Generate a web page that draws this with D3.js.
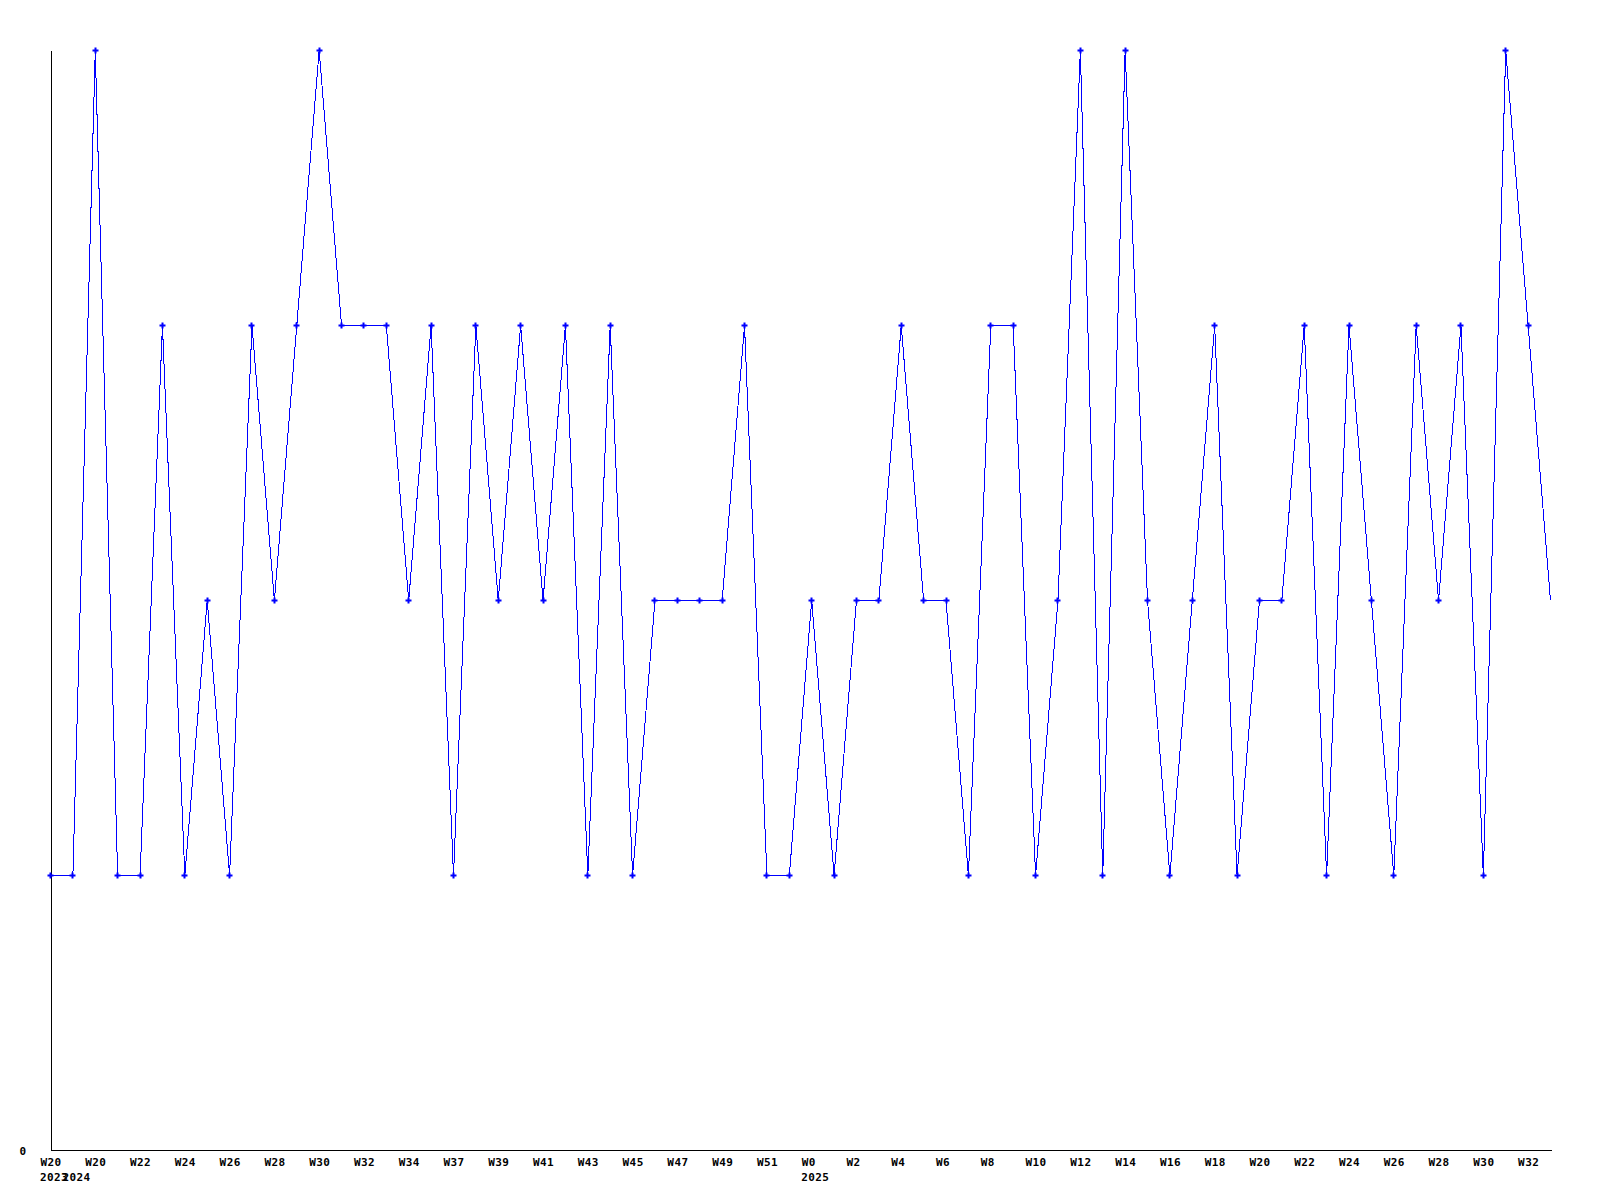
<!DOCTYPE html>
<html>
<head>
<meta charset="utf-8">
<script src="https://cdn.jsdelivr.net/npm/d3@7"></script>
<style>
  html, body { margin: 0; padding: 0; background: #fff; }
  svg { display: block; }
  text { font-family: "DejaVu Sans Mono", "Liberation Mono", monospace; font-weight: bold; font-size: 11px; letter-spacing: 0.4px; fill: #000; }
</style>
</head>
<body>
<svg id="chart" width="1600" height="1200"></svg>
<script>
// ---- data ----
const weeks = [
  "W20", "W19",
  "W20","W21","W22","W23","W24","W25","W26","W27","W28","W29","W30","W31","W32","W33","W34",
  "W36",
  "W37","W38","W39","W40","W41","W42","W43","W44","W45","W46","W47","W48","W49","W50","W51","W52",
  "W0","W1","W2","W3","W4","W5","W6","W7","W8","W9","W10","W11","W12","W13","W14","W15","W16",
  "W17","W18","W19","W20","W21","W22","W23","W24","W25","W26","W27","W28","W29","W30","W31","W32","W33"
];
const years = [
  "2023","2024",
  "2024","2024","2024","2024","2024","2024","2024","2024","2024","2024","2024","2024","2024","2024","2024",
  "2024",
  "2024","2024","2024","2024","2024","2024","2024","2024","2024","2024","2024","2024","2024","2024","2024","2024",
  "2025","2025","2025","2025","2025","2025","2025","2025","2025","2025","2025","2025","2025","2025","2025","2025","2025",
  "2025","2025","2025","2025","2025","2025","2025","2025","2025","2025","2025","2025","2025","2025","2025","2025","2025"
];
const values = [
  1,1,4,1,1,3,1,2,1,3,2,3,4,3,3,3,2,3,1,3,2,3,2,3,1,3,1,2,2,2,2,3,1,1,
  2,1,2,2,3,2,2,1,3,3,1,2,4,1,4,2,1,2,3,1,2,2,3,1,3,2,1,3,2,3,1,4,3,2
];
const yTicks = [0];

// ---- layout ----
const svg = d3.select("#chart");
const mLeft = 50, mRight = 1550, mTop = 50, mBottom = 1150;

const x = d3.scaleLinear().domain([0, values.length - 1]).range([mLeft, mRight]);
const y = d3.scaleLinear().domain([0, 4]).range([mBottom, mTop]);

const tickIdx = d3.range(0, values.length, 2);

// axes
const xAxis = d3.axisBottom(x)
  .tickValues(tickIdx)
  .tickSize(0)
  .tickSizeOuter(0)
  .tickPadding(8)
  .tickFormat(i => weeks[i]);

const gx = svg.append("g")
  .attr("transform", `translate(0.5,${mBottom + 0.5})`)
  .call(xAxis);
gx.select(".domain").attr("stroke", "#000").attr("shape-rendering", "crispEdges")
  .attr("d", `M${mLeft},0H${mRight + 1}`);
gx.selectAll(".tick text")
  .attr("font-size", null).attr("font-family", null)
  .attr("text-anchor", "start")
  .attr("x", -10.5)
  .attr("dy", "0.71em");

// year labels under the first point of each year
const yearStarts = d3.range(values.length).filter(i => i === 0 || years[i] !== years[i - 1]);
gx.selectAll(".year")
  .data(yearStarts)
  .join("text")
  .attr("class", "year")
  .attr("x", i => x(i) - 10.5)
  .attr("y", 23)
  .attr("dy", "0.71em")
  .attr("text-anchor", "start")
  .text(i => years[i]);

const yAxis = d3.axisLeft(y)
  .tickValues(yTicks)
  .tickSize(0)
  .tickSizeOuter(0)
  .tickPadding(24)
  .tickFormat(d3.format("d"));

const gy = svg.append("g")
  .attr("transform", `translate(${mLeft + 0.5},0.5)`)
  .call(yAxis);
gy.select(".domain").attr("stroke", "#000").attr("shape-rendering", "crispEdges");
gy.selectAll(".tick text").attr("font-size", null).attr("font-family", null);

// line
const line = d3.line()
  .x((d, i) => x(i))
  .y(d => y(d));

svg.append("path")
  .datum(values)
  .attr("transform", "translate(0.5,0.5)")
  .attr("fill", "none")
  .attr("stroke", "#0000ff")
  .attr("stroke-width", 1)
  .attr("shape-rendering", "crispEdges")
  .attr("d", line);

// markers (all but the last point)
const cross = d3.symbol().type(d3.symbolCross).size(20);
svg.append("g")
  .selectAll("path")
  .data(values.slice(0, values.length - 1))
  .join("path")
  .attr("transform", (d, i) => `translate(${Math.round(x(i)) + 0.5},${Math.round(y(d)) + 0.5})`)
  .attr("d", cross)
  .attr("fill", "#0000ff");
</script>
</body>
</html>
